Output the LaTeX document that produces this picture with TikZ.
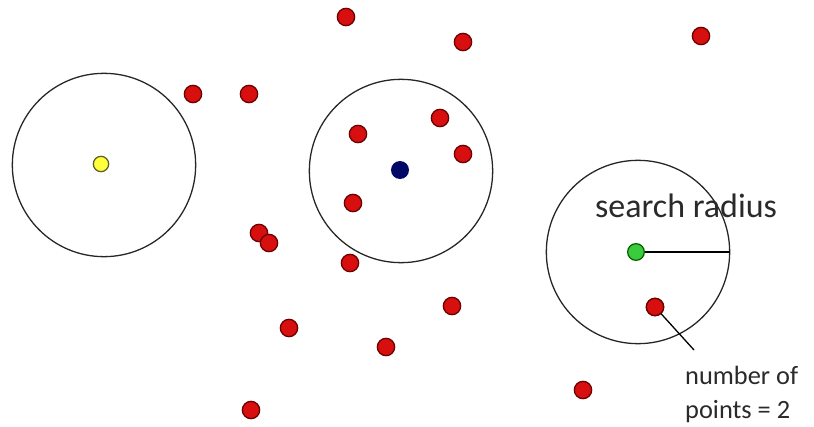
\documentclass[tikz,border=0pt]{standalone}
\usepackage{fontspec}
\setmainfont{Carlito}
\usepackage{xcolor}
\usetikzlibrary{positioning}
\definecolor{dotred}{HTML}{D80F0F}
\definecolor{dotredline}{HTML}{6A0000}
\definecolor{dotyellow}{HTML}{FFFF3C}
\definecolor{dotgreen}{HTML}{3CCB3C}
\definecolor{dotblue}{HTML}{000A66}
\definecolor{inkgray}{HTML}{2A2A2A}

\begin{document}
\begin{tikzpicture}[
    x=0.03cm, y=-0.03cm,
    datapt/.style={circle, draw=dotredline, fill=dotred, line width=1.1pt, inner sep=0pt, minimum size=0.52cm},
    query/.style={circle, line width=1.1pt, inner sep=0pt, minimum size=0.5cm},
    ring/.style={circle, draw=black!85, line width=1.1pt, inner sep=0pt, minimum size=5.5cm},
    lbl/.style={text=inkgray, inner sep=0pt}
]
\useasboundingbox[fill=white] (0,0) rectangle (814,427);

% Search rings
\node[ring] (r1) at (104,165) {};
\node[ring] (r2) at (401,171) {};
\node[ring] (r3) at (638,252) {};

% Data points
\foreach \px/\py [count=\i] in {346/17, 463/42, 701/36, 193/94, 249/94, 358/134, 440/118, 463/154,
    353/203, 259/233, 269/243, 350/263, 452/306, 289/328, 386/347, 251/410, 583/390, 655/307} {
    \node[datapt] (p\i) at (\px,\py) {};
}

% Query points
\node[query, draw=olive!60!black, fill=dotyellow, minimum size=0.46cm] (qy) at (101,164) {};
\node[query, draw=dotblue, fill=dotblue] (qb) at (400,170) {};

% Radius
\coordinate (edge) at (r3.east);
\draw[line width=1.2pt] (636,252) -- (edge);
\node[query, draw=green!40!black, fill=dotgreen] (qg) at (636,252) {};
\node[lbl, font=\fontsize{29}{32}\selectfont] (rad) at (686,206) {search radius};

% Count label
\node[lbl, font=\fontsize{22.5}{29}\selectfont, align=left, anchor=north west] (cnt) at (685,366) {number of\\points = 2};
\coordinate (lead) at (694,350);
\draw[line width=1.1pt] (p18.center) -- (lead);
\node[datapt] at (p18) {};

\end{tikzpicture}
\end{document}
